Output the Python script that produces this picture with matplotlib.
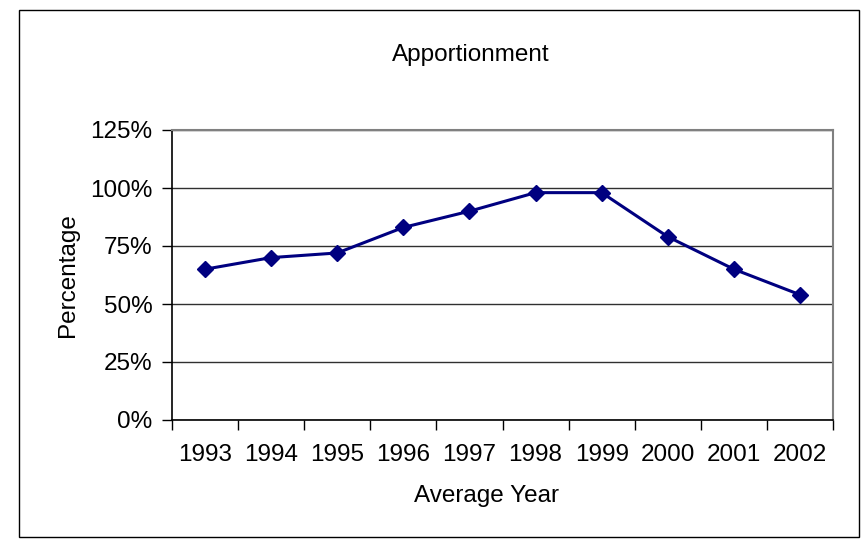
import matplotlib
matplotlib.use("Agg")
from matplotlib import pyplot as plt
from matplotlib.patches import Rectangle
from matplotlib.ticker import FixedLocator, NullFormatter

years = ["1993", "1994", "1995", "1996", "1997", "1998", "1999", "2000", "2001", "2002"]
share = [65, 70, 72, 83, 90, 98, 98, 79, 65, 54]
yticks = [0, 25, 50, 75, 100, 125]
ytick_labels = ["0%", "25%", "50%", "75%", "100%", "125%"]

W, H = 865, 542
plt.rcParams['font.family'] = ['Liberation Sans', 'DejaVu Sans']
FS = 17.5

fig = plt.figure(figsize=(W / 100, H / 100), dpi=100)

# outer chart border
fig.patches.append(Rectangle((19 / W, 1 - 537 / H), (859 - 19) / W, (537 - 10) / H,
                             transform=fig.transFigure, fill=False, edgecolor='black', lw=1))

# plot area
ax = fig.add_axes([172 / W, 1 - 420 / H, (833 - 172) / W, (420 - 130) / H])

x = list(range(len(years)))
ax.plot(x, share, color='#000080', lw=2.2, marker='D', markersize=8.5, zorder=3, clip_on=False)

ax.set_xlim(-0.5, len(years) - 0.5)
ax.set_ylim(0, 125)

ax.set_yticks(yticks)
ax.set_yticklabels(ytick_labels, fontsize=FS)
ax.yaxis.grid(True, color='#303030', lw=1)
ax.set_axisbelow(True)

# category axis: ticks between categories, labels centred
ax.xaxis.set_major_locator(FixedLocator([i - 0.5 for i in range(len(years) + 1)]))
ax.xaxis.set_major_formatter(NullFormatter())
ax.xaxis.set_minor_locator(FixedLocator(x))
ax.set_xticklabels(years, minor=True, fontsize=FS)
ax.tick_params(axis='x', which='minor', length=0, pad=17)
ax.tick_params(axis='x', which='major', length=7, width=1, direction='out', color='black')
ax.tick_params(axis='y', length=7, width=1, direction='out', pad=7)

for side in ['top', 'right']:
    ax.spines[side].set_color('#808080')
    ax.spines[side].set_linewidth(1.5)
for side in ['left', 'bottom']:
    ax.spines[side].set_color('black')
    ax.spines[side].set_linewidth(1.2)

fig.text(471 / W, 1 - 55 / H, "Apportionment", ha='center', va='center', fontsize=FS)
fig.text(68 / W, 1 - 275 / H, "Percentage", ha='center', va='center', rotation=90, fontsize=FS)
fig.text(487 / W, 1 - 496 / H, "Average Year", ha='center', va='center', fontsize=FS)

fig.savefig("out.png", dpi=100)
